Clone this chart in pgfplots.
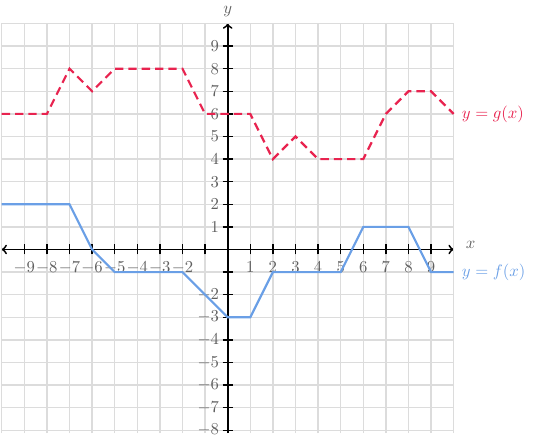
\documentclass[border=0pt]{standalone}
\usepackage{pgfplots}
\pgfplotsset{compat=1.18}
\definecolor{gred}{HTML}{E8234F}
\definecolor{fblue}{HTML}{6A9FE6}
\definecolor{tickgray}{HTML}{606060}
\definecolor{gridgray}{HTML}{DCDCDC}
\begin{document}
\begin{tikzpicture}
\begin{axis}[
  x=13.56pt, y=13.56pt,
  xmin=-10, xmax=10, ymin=-8.13, ymax=10,
  axis lines=middle,
  axis line style={line width=1.1pt, black},
  x axis line style={<->},
  y axis line style={->},
  xtick={-9,...,9},
  ytick={-8,...,9},
  xticklabels={$-9$,$-8$,$-7$,$-6$,$-5$,$-4$,$-3$,$-2$,,,$1$,$2$,$3$,$4$,$5$,$6$,$7$,$8$,$9$},
  yticklabels={$-8$,$-7$,$-6$,$-5$,$-4$,$-3$,$-2$,,,$1$,$2$,$3$,$4$,$5$,$6$,$7$,$8$,$9$},
  tick align=center,
  major tick length=6pt,
  tick style={black, line width=0.8pt},
  xticklabel style={text=tickgray, inner sep=1pt, yshift=-3pt},
  yticklabel style={text=tickgray, inner sep=1pt, xshift=-1pt},
  grid=major,
  major grid style={gridgray, line width=0.8pt},
  clip=false,
]
\draw[gridgray, line width=0.8pt] (axis cs:-10,-8.13) -- (axis cs:-10,10);
\draw[gridgray, line width=0.8pt] (axis cs:10,-8.13) -- (axis cs:10,10);
\draw[gridgray, line width=0.8pt] (axis cs:-10,10) -- (axis cs:10,10);
\addplot[gred, line width=1.3pt, dash pattern=on 5pt off 3pt] coordinates {
  (-10,6) (-8,6) (-7,8) (-6,7) (-5,8) (-2,8) (-1,6) (1,6) (2,4) (3,5) (4,4) (6,4) (7,6) (8,7) (9,7) (10,6)};
\addplot[fblue, line width=1.3pt] coordinates {
  (-10,2) (-7,2) (-6,0) (-5,-1) (-2,-1) (0,-3) (1,-3) (2,-1) (5,-1) (6,1) (8,1) (9,-1) (10,-1)};
\node[anchor=west, text=gred, inner sep=0pt] at (axis cs:10.35,6) {$y=g(x)$};
\node[anchor=west, text=fblue, inner sep=0pt] at (axis cs:10.35,-1) {$y=f(x)$};
\node[text=tickgray, inner sep=0pt] at (axis cs:10.75,0.2) {$x$};
\node[text=tickgray, inner sep=0pt] at (axis cs:0,10.55) {$y$};
\coordinate (bl) at (axis cs:-10.075,-8.57);
\coordinate (tr) at (axis cs:13.82,11.04);
\end{axis}
\pgfresetboundingbox
\path (bl) rectangle (tr);
\end{tikzpicture}
\end{document}
